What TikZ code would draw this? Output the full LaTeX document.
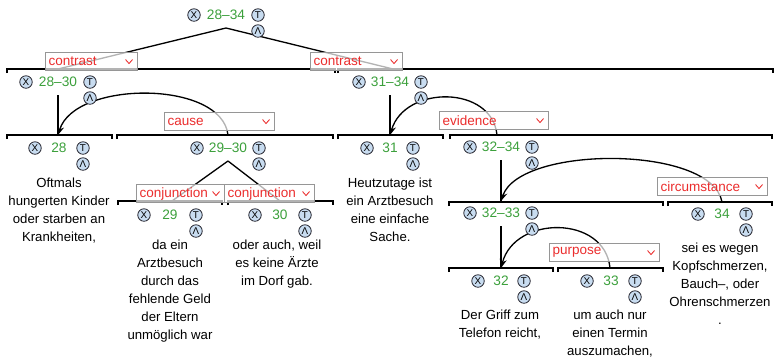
\documentclass[tikz,border=0pt]{standalone}
\usepackage{fontspec}
\setmainfont{Liberation Sans}
\usetikzlibrary{arrows.meta,positioning}
\definecolor{numgreen}{RGB}{60,160,60}
\definecolor{relred}{RGB}{235,45,45}
\definecolor{boxgray}{RGB}{150,150,150}
\definecolor{iconblue}{RGB}{200,220,240}
\definecolor{icondark}{RGB}{40,40,50}

\tikzset{
  spanline/.style={line width=0.7pt,black},
  link/.style={line width=0.75pt,black},
  relarc/.style={line width=0.75pt,black,-{Stealth[length=5pt,width=4pt]}},
  relbox/.style={draw=boxgray,line width=0.6pt,fill=white,fill opacity=.7,text opacity=1,
    text=relred,font=\fontsize{7.7}{8}\selectfont,anchor=north west,inner xsep=0.06cm,
    inner ysep=0pt,minimum height=0.36cm,text width=#1,align=left},
  spannum/.style={text=numgreen,font=\fontsize{7.8}{8}\selectfont,inner sep=0pt},
  icon/.style={circle,draw=icondark,fill=iconblue,line width=0.45pt,inner sep=0pt,
    minimum size=0.25cm,font=\fontsize{5.6}{5.6}\selectfont},
  edutext/.style={align=center,anchor=north,inner sep=0pt,font=\fontsize{7.5}{10.2}\selectfont}
}

\begin{document}
\begin{tikzpicture}[x=0.02cm,y=-0.02cm]
\useasboundingbox (0,0) rectangle (775,360);

% span brackets
\foreach \xa/\xb/\yy in {7/335/69,338/773/69,7/112/135,117/333/135,338/443/135,450/772/135,
  118/222/201,228/333/201,449/663/202,668/772/202,449/553/268,558/663/268}
  \draw[spanline] (\xa,\yy+4) |- (\xb,\yy) -- (\xb,\yy+4);

% span tops
\coordinate (s2830) at (58,69);
\coordinate (s3134) at (393,69);
\coordinate (s28) at (58,135);
\coordinate (s2930) at (228,135);
\coordinate (s31) at (390,135);
\coordinate (s3234) at (497,135);
\coordinate (s29) at (172,201);
\coordinate (s30) at (280,201);
\coordinate (s3233) at (501,201);
\coordinate (s34) at (722,202);
\coordinate (s32) at (501,268);
\coordinate (s33) at (610,268);

% span labels
\foreach \nm/\cx/\cy/\lab/\d in {2834/226/15/28–34/32,2830/58/82/28–30/32,3134/390/82/31–34/31,
  28/59/148/28/24,2930/228/148/29–30/31,31/390/148/31/23,3234/501/147/32–34/31,
  29/170/215/29/26,30/280/215/30/25,3233/501/213/32–33/31,34/722/214/34/24,
  32/501/281/32/23,33/611/281/33/24}{
  \coordinate (b\nm) at (\cx,\cy+13);
}

% multinuclear and nucleus links
\draw[link] (b2834) -- (s2830);
\draw[link] (b2834) -- (s3134);
\draw[link] (b2930) -- (s29);
\draw[link] (b2930) -- (s30);
\draw[link] (b2830) -- (s28);
\draw[link] (b3134) -- (s31);
\draw[link] (b3234) -- (s3233);
\draw[link] (b3233) -- (s32);

% satellite arcs
\draw[relarc] (s2930) .. controls (222,80) and (75,80) .. (s28);
\draw[relarc] (s3234) .. controls (492,85) and (405,85) .. (s31);
\draw[relarc] (s34) .. controls (712,145) and (520,145) .. (s3233);
\draw[relarc] (s33) .. controls (605,215) and (515,215) .. (s32);

% relation boxes
\node[relbox=1.72cm] (rcon1) at (45,52) {contrast};
\node[relbox=1.72cm] (rcon2) at (310,52) {contrast};
\node[relbox=2.08cm] (rcause) at (164,112) {cause};
\node[relbox=2.06cm] (revid) at (439,111) {evidence};
\node[relbox=1.64cm] (rconj1) at (136,184) {conjunction};
\node[relbox=1.68cm] (rconj2) at (224,184) {conjunction};
\node[relbox=2.08cm] (rcirc) at (657,177) {circumstance};
\node[relbox=2.08cm] (rpurp) at (549,243) {purpose};
\foreach \r in {rcon1,rcon2,rcause,revid,rconj1,rconj2,rcirc,rpurp}
  \draw[relred,line width=0.5pt] ([xshift=-0.25cm,yshift=0.04cm]\r.east) -- ++(3.5,4) -- ++(3.5,-4);

% labels with icons
\foreach \nm/\cx/\cy/\lab/\d in {2834/226/15/28–34/32,2830/58/82/28–30/32,3134/390/82/31–34/31,
  28/59/148/28/24,2930/228/148/29–30/31,31/390/148/31/23,3234/501/147/32–34/31,
  29/170/215/29/26,30/280/215/30/25,3233/501/213/32–33/31,34/722/214/34/24,
  32/501/281/32/23,33/611/281/33/24}{
  \node[spannum] (n\nm) at (\cx,\cy) {\lab};
  \node[icon] (x\nm) at (\cx-\d,\cy) {X};
  \node[icon] (t\nm) at (\cx+\d,\cy) {T};
  \node[icon] (l\nm) at (\cx+\d,\cy+16) {Λ};
}

% segment texts
\node[edutext] (e28) at (59,178) {Oftmals\\hungerten Kinder\\oder starben an\\Krankheiten,};
\node[edutext] (e29) at (170,240) {da ein\\Arztbesuch\\durch das\\fehlende Geld\\der Eltern\\unmöglich war};
\node[edutext] (e30) at (277,240) {oder auch, weil\\es keine Ärzte\\im Dorf gab.};
\node[edutext] (e31) at (390,178) {Heutzutage ist\\ein Arztbesuch\\eine einfache\\Sache.};
\node[edutext] (e34) at (720,243) {sei es wegen\\Kopfschmerzen,\\Bauch–, oder\\Ohrenschmerzen\\.};
\node[edutext] (e32) at (500,310) {Der Griff zum\\Telefon reicht,};
\node[edutext] (e33) at (610,310) {um auch nur\\einen Termin\\auszumachen,};
\end{tikzpicture}
\end{document}
